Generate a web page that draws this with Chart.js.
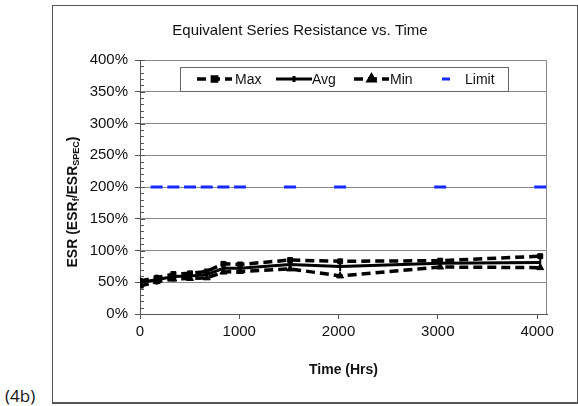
<!DOCTYPE html>
<html>
<head>
<meta charset="utf-8">
<script src="https://cdn.jsdelivr.net/npm/chart.js@4/dist/chart.umd.min.js"></script>
<style>
  body { margin: 0; background: #fff; width: 578px; height: 406px; position: relative; overflow: hidden; }
  #frame { position: absolute; left: 52px; top: 5px; width: 524px; height: 396px; border: 1px solid #555; border-bottom-width: 2px; }
  #wrap { position: absolute; left: 0; top: 0; width: 524px; height: 396px; }
  #tag { position: absolute; left: 5px; top: 384px; font: 17px "Open Sans", "Noto Sans", sans-serif; color: #111; }
</style>
</head>
<body>
<div id="frame"><div id="wrap"><canvas id="esrChart"></canvas></div></div>
<div id="tag">(4b)</div>
<script>
const hours = [0, 168, 336, 504, 672, 840, 1008, 1512, 2016, 3024, 4032];
const maxVals = [52, 57, 63, 64, 67, 79, 78, 85, 83, 84, 91];
const avgVals = [50, 54, 59, 60, 62, 72, 72, 78, 75, 80, 81];
const minVals = [44, 51, 55, 56, 57, 66, 67, 71, 60, 74, 73];
const limitVals = [null, 200, 200, 200, 200, 200, 200, 200, 200, 200, 200];
const xTicks = [0, 1000, 2000, 3000, 4000];

const FONT = "'Liberation Sans', Arial, sans-serif";

function pts(vals) {
    return hours.map((h, i) => ({ x: h, y: vals[i] }));
}

// minor ticks on the y axis, frame of plot, y title with subscripts, legend box
const extras = {
    id: 'extras',
    beforeDatasetsDraw(chart) {
        const { ctx, chartArea: a, scales: { y } } = chart;
        ctx.save();
        ctx.strokeStyle = '#8a8a8a';
        ctx.lineWidth = 1;
        ctx.beginPath();
        ctx.moveTo(a.left, a.top + 0.5);
        ctx.lineTo(a.right - 0.5, a.top + 0.5);
        ctx.lineTo(a.right - 0.5, a.bottom);
        ctx.stroke();
        ctx.strokeStyle = '#555';
        ctx.beginPath();
        for (let v = 0; v <= 400; v += 10) {
            if (v % 50 === 0) continue;
            const py = Math.round(y.getPixelForValue(v)) + 0.5;
            ctx.moveTo(a.left, py);
            ctx.lineTo(a.left + 4, py);
        }
        for (let v = 0; v <= 400; v += 50) {
            const py = Math.round(y.getPixelForValue(v)) + 0.5;
            ctx.moveTo(a.left, py);
            ctx.lineTo(a.left + 5, py);
        }
        ctx.stroke();
        ctx.restore();
    },
    afterDraw(chart) {
        const { ctx, chartArea: a } = chart;
        ctx.save();
        // y axis title
        const parts = [
            ['ESR (ESR', 14, 0], ['f', 9, 4], ['/ESR', 14, 0], ['SPEC', 9, 4], [')', 14, 0]
        ];
        let total = 0;
        parts.forEach(p => { ctx.font = 'bold ' + p[1] + 'px ' + FONT; total += ctx.measureText(p[0]).width; });
        ctx.translate(20, 196);
        ctx.rotate(-Math.PI / 2);
        ctx.fillStyle = '#111';
        ctx.textBaseline = 'middle';
        let cx = -total / 2;
        parts.forEach(p => {
            ctx.font = 'bold ' + p[1] + 'px ' + FONT;
            ctx.fillText(p[0], cx, p[2]);
            cx += ctx.measureText(p[0]).width;
        });
        ctx.restore();

        // legend
        ctx.save();
        const bx = a.left + 40, by = a.top + 7, bw = 328, bh = 24;
        ctx.fillStyle = '#fff';
        ctx.fillRect(bx, by, bw, bh);
        ctx.strokeStyle = '#666';
        ctx.lineWidth = 1;
        ctx.strokeRect(bx + 0.5, by + 0.5, bw, bh);
        const cy = by + bh / 2;
        const items = [
            { ds: 0, x0: 17, x1: 52, tx: 55, r: 3 },
            { ds: 1, x0: 96, x1: 132, tx: 132, r: 3 },
            { ds: 2, x0: 174, x1: 209, tx: 210, r: 3.5 },
            { ds: 3, x0: 262, x1: 270, tx: 285 }
        ];
        ctx.font = '14px ' + FONT;
        ctx.textBaseline = 'middle';
        items.forEach(it => {
            const d = chart.data.datasets[it.ds];
            ctx.strokeStyle = d.borderColor;
            ctx.fillStyle = d.borderColor;
            if (it.ds === 3) {
                ctx.lineWidth = 3;
                ctx.beginPath();
                ctx.moveTo(bx + it.x0, cy);
                ctx.lineTo(bx + it.x1, cy);
                ctx.stroke();
            } else {
                ctx.lineWidth = d.borderWidth;
                ctx.setLineDash(d.borderDash || []);
                ctx.beginPath();
                ctx.moveTo(bx + it.x0, cy);
                ctx.lineTo(bx + it.x1, cy);
                ctx.stroke();
                ctx.setLineDash([]);
                Chart.helpers.drawPoint(ctx, {
                    pointStyle: d.pointStyle, radius: it.r,
                    rotation: d.pointRotation || 0, borderWidth: 1
                }, bx + (it.x0 + it.x1) / 2, cy);
            }
            ctx.fillStyle = '#111';
            ctx.fillText(d.label, bx + it.tx, cy + 1);
        });
        ctx.restore();
    }
};

new Chart(document.getElementById('esrChart'), {
    type: 'line',
    data: {
        datasets: [
            {
                label: 'Max', data: pts(maxVals), borderColor: '#000', backgroundColor: '#000',
                borderWidth: 3.5, borderDash: [9, 5], pointStyle: 'rect', pointRadius: 3.5,
                pointBorderWidth: 1, tension: 0
            },
            {
                label: 'Avg', data: pts(avgVals), borderColor: '#000', backgroundColor: '#000',
                borderWidth: 3, pointStyle: 'line', pointRotation: 90, pointRadius: 5,
                pointBorderWidth: 2, tension: 0
            },
            {
                label: 'Min', data: pts(minVals), borderColor: '#000', backgroundColor: '#000',
                borderWidth: 3.5, borderDash: [9, 5], pointStyle: 'triangle', pointRadius: 4,
                pointBorderWidth: 1, tension: 0
            },
            {
                label: 'Limit', data: pts(limitVals), borderColor: '#1528ff', backgroundColor: '#1528ff',
                showLine: false, pointStyle: 'line', pointRadius: 6, pointBorderWidth: 3
            }
        ]
    },
    options: {
        responsive: true,
        maintainAspectRatio: false,
        animation: false,
        events: [],
        layout: { padding: { left: 0, right: 30, top: 0, bottom: 23 } },
        plugins: {
            legend: { display: false },
            tooltip: { enabled: false },
            title: {
                display: true,
                text: 'Equivalent Series Resistance vs. Time',
                color: '#111',
                font: { family: FONT, size: 15, weight: 'normal' },
                padding: { top: 16, bottom: 20 }
            }
        },
        scales: {
            x: {
                type: 'linear',
                min: 0,
                max: 4100,
                afterBuildTicks(scale) { scale.ticks = xTicks.map(v => ({ value: v })); },
                afterFit(scale) { scale.height = 65; },
                grid: { drawOnChartArea: false, drawTicks: true, tickLength: 5, color: '#555' },
                border: { color: '#555', width: 1 },
                ticks: {
                    color: '#111', font: { family: FONT, size: 15 }, padding: 4, maxRotation: 0,
                    callback: v => String(v)
                },
                title: {
                    display: true, text: 'Time (Hrs)', color: '#111',
                    font: { family: FONT, size: 14, weight: 'bold' },
                    padding: { top: 0, bottom: 0 }
                }
            },
            y: {
                min: 0,
                max: 400,
                afterFit(scale) { scale.width = 87; },
                grid: {
                    color: '#8a8a8a', lineWidth: 1, drawTicks: true, tickLength: 5,
                    tickColor: '#555'
                },
                border: { color: '#555', width: 1 },
                ticks: {
                    stepSize: 50, color: '#111', padding: 7,
                    font: { family: FONT, size: 15 },
                    callback: v => v + '%'
                }
            }
        }
    },
    plugins: [extras]
});
</script>
</body>
</html>
